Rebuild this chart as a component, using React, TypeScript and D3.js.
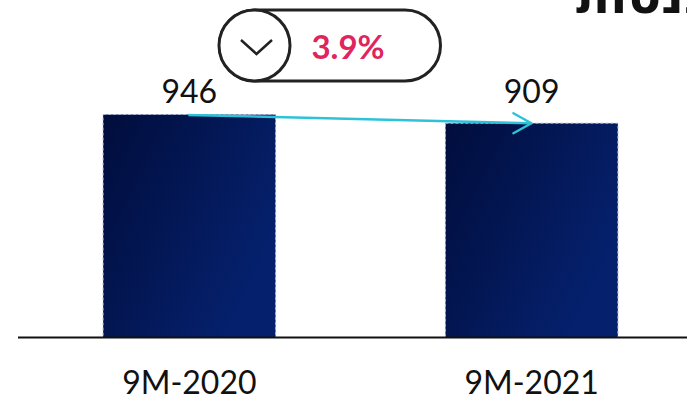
import React from "react";
import * as d3 from "d3";

const categories = ["9M-2020", "9M-2021"];
const values = [946, 909];
const valueLabels = ["946", "909"];
const changeLabel = "3.9%";
const titleText = "הכנסות";

const W = 687;
const H = 399;

export default function App() {
  const x = d3
    .scaleBand<string>()
    .domain(categories)
    .range([17.5, 703.5])
    .paddingInner(0.496)
    .paddingOuter(0.25);
  const baseY = 337.5;
  const y = d3.scaleLinear().domain([0, 946]).range([baseY, 114.5]);

  const bw = x.bandwidth();
  const cx = (c: string) => (x(c) as number) + bw / 2;

  const x1 = cx(categories[0]) - 1;
  const y1 = y(values[0]) + 0.5;
  const x2 = (x(categories[1]) as number) + 86;
  const y2 = y(values[1]);
  const line = d3.line();

  return (
    <svg
      width={W}
      height={H}
      style={{ position: "absolute", left: 0, top: 0, background: "#fff" }}
    >
      <defs>
        <linearGradient id="barGrad" x1="0" y1="0" x2="1" y2="0.6">
          <stop offset="0" stopColor="#010d3c" />
          <stop offset="1" stopColor="#05216e" />
        </linearGradient>
      </defs>

      {/* title, mostly above the visible area */}
      <text
        x={576}
        y={13}
        fontFamily="'DejaVu Sans', 'Liberation Sans', sans-serif"
        fontWeight="bold"
        fontSize={50}
        fill="#111"
        direction="ltr"
      >
        {titleText}
      </text>

      {categories.map((c, i) => (
        <g key={c}>
          <rect
            x={x(c)}
            y={y(values[i])}
            width={bw}
            height={baseY - y(values[i])}
            fill="url(#barGrad)"
            stroke="#a9b3d0"
            strokeWidth={1}
            strokeDasharray="3,2"
          />
          <text
            x={cx(c)}
            y={103}
            textAnchor="middle"
            fontFamily="Lato, sans-serif"
            fontSize={32}
            fill="#111"
          >
            {valueLabels[i]}
          </text>
          <text
            x={cx(c)}
            y={394}
            textAnchor="middle"
            fontFamily="Lato, sans-serif"
            fontSize={32}
            fill="#111"
          >
            {c}
          </text>
        </g>
      ))}

      <line x1={18} x2={W} y1={baseY} y2={baseY} stroke="#111" strokeWidth={2} />

      <path
        d={line([[x1, y1], [x2, y2]]) as string}
        stroke="#2cc3d9"
        strokeWidth={2.5}
        fill="none"
      />
      <path
        d={line([[x2 - 18, y2 - 10], [x2, y2], [x2 - 18, y2 + 10]]) as string}
        stroke="#2cc3d9"
        strokeWidth={2.5}
        fill="none"
        strokeLinecap="round"
        strokeLinejoin="round"
      />

      <rect
        x={219.5}
        y={10}
        width={221}
        height={71}
        rx={35.5}
        fill="#fff"
        stroke="#222"
        strokeWidth={3}
      />
      <circle cx={254.5} cy={45.5} r={35.5} fill="#fff" stroke="#222" strokeWidth={3} />
      <path
        d={line([[241, 40], [256.5, 54], [272, 40]]) as string}
        stroke="#222"
        strokeWidth={2.5}
        fill="none"
      />
      <text
        x={348}
        y={59}
        textAnchor="middle"
        fontFamily="Lato, sans-serif"
        fontWeight="bold"
        fontSize={33}
        fill="#e0245e"
      >
        {changeLabel}
      </text>
    </svg>
  );
}
